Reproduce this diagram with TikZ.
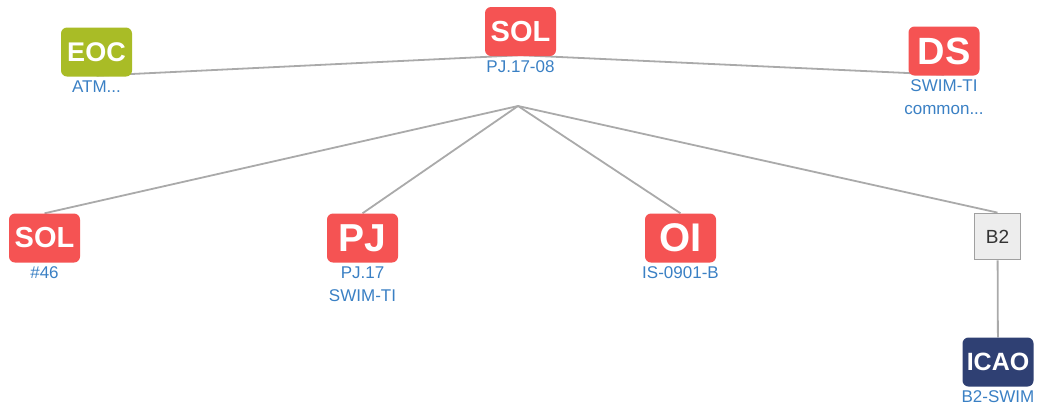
\documentclass[tikz,border=0pt]{standalone}
\usepackage{fontspec}
\setmainfont{Liberation Sans}
\usetikzlibrary{positioning,backgrounds}
\definecolor{solred}{RGB}{245,83,83}
\definecolor{eocgreen}{RGB}{169,188,38}
\definecolor{icaonavy}{RGB}{47,64,115}
\definecolor{lblblue}{RGB}{58,128,196}
\definecolor{linkgray}{RGB}{170,170,170}
\definecolor{boxgray}{RGB}{160,160,160}
\tikzset{
  badge/.style={rounded corners=6pt, minimum width=71pt, minimum height=49pt,
    inner sep=0pt, text=white},
  sol/.style={badge, fill=solred},
  lbl/.style={below=4pt of #1, inner sep=0pt, text=lblblue, align=center,
    font=\fontsize{17}{23}\selectfont},
  link/.style={draw=linkgray, line width=1.8pt},
  fs/.style={font=\fontsize{#1}{#1}\selectfont\bfseries}
}
\begin{document}
\begin{tikzpicture}[x=1pt, y=-1pt]
  \useasboundingbox (0,0) rectangle (1038,408);
  % top row
  \node[sol, fs=29] (soltop) at (520.5,31.5) {SOL};
  \node[badge, fill=eocgreen, fs=27] (eoc) at (96.5,52) {EOC};
  \node[sol, fs=38] (ds) at (944,51) {DS};
  \node[lbl=soltop] (soltoplbl) {PJ.17-08};
  \node[lbl=eoc] (eoclbl) {ATM...};
  \node[lbl=ds] (dslbl) {SWIM-TI\\common...};
  % bottom row
  \node[sol, fs=29] (sol46) at (44.5,238) {SOL};
  \node[sol, fs=39] (pj) at (362.5,238) {PJ};
  \node[sol, fs=40] (oi) at (680.5,238) {OI};
  \node[draw=boxgray, fill=gray!14, line width=1.8pt, minimum size=46pt,
    inner sep=0pt, text=black!80, font=\fontsize{19}{19}\selectfont] (b2) at (997.5,236.5) {B2};
  \node[badge, fill=icaonavy, fs=25] (icao) at (998,362) {ICAO};
  \node[lbl=sol46] (sol46lbl) {\#46};
  \node[lbl=pj] (pjlbl) {PJ.17\\SWIM-TI};
  \node[lbl=oi] (oilbl) {IS-0901-B};
  \node[lbl=icao] (icaolbl) {B2-SWIM};
  % links
  \coordinate (hub) at (518,106);
  \begin{pgfonlayer}{background}
    \draw[link] ([yshift=1pt]eoc.south) -- ([yshift=1pt]soltop.south)
      -- ([yshift=1pt]ds.south);
    \draw[link] (hub) -- (sol46.north);
    \draw[link] (hub) -- (pj.north);
    \draw[link] (hub) -- (oi.north);
    \draw[link] (hub) -- (b2.north);
    \draw[link] (b2) -- (icao);
  \end{pgfonlayer}
\end{tikzpicture}
\end{document}
